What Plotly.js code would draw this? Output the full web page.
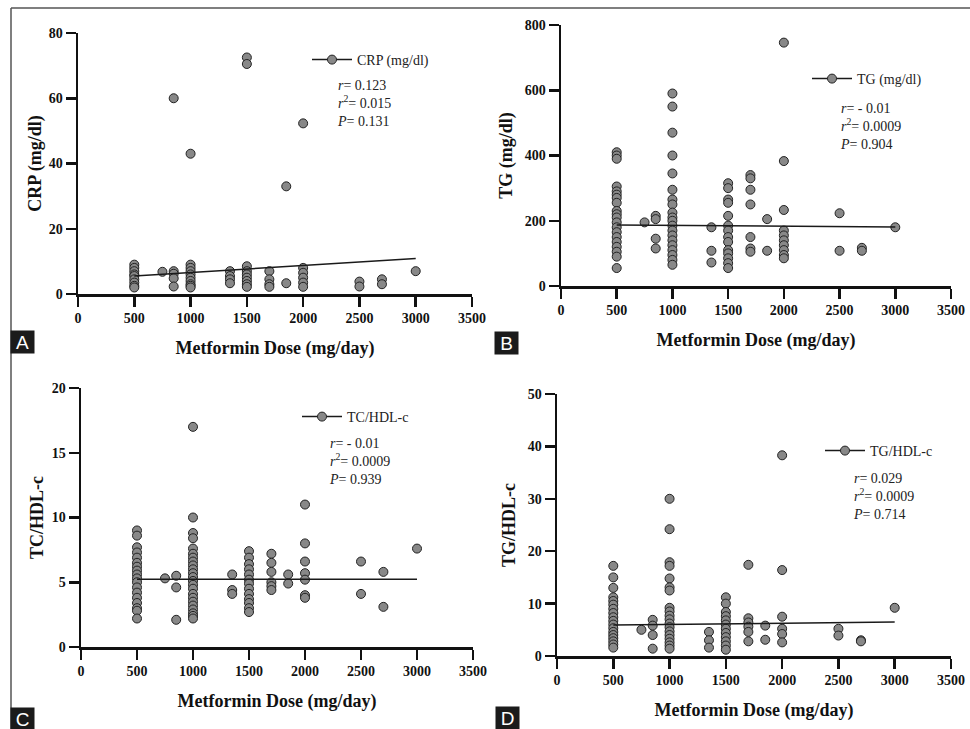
<!DOCTYPE html>
<html>
<head>
<meta charset="utf-8">
<script src="https://cdn.plot.ly/plotly-3.0.1.min.js"></script>
<style>html,body{margin:0;padding:0;background:#fff;}#chart{width:970px;height:729px;}</style>
</head>
<body>
<div id="chart"></div>
<script>
// ---- data ----
const doses = [500, 750, 850, 1000, 1350, 1500, 1700, 1850, 2000, 2500, 2700, 3000];

const crpValues = [
  [9, 8, 7, 6, 5.5, 4.5, 3.5, 2.5, 2],
  [6.8],
  [60, 7, 6.2, 4.8, 2.3],
  [43, 9, 8, 7, 6, 5, 4, 3, 2.5, 2],
  [7, 5.5, 4.5, 3.3],
  [72.5, 70.5, 8.5, 7, 6, 5, 4, 3, 2.2],
  [7, 4.5, 3, 2.2],
  [33, 3.3],
  [52.3, 8, 6.5, 5, 3.5, 2.2],
  [3.8, 2.3],
  [4.5, 3],
  [7]
];

const tgValues = [
  [410, 400, 390, 305, 290, 280, 270, 255, 230, 220, 210, 195, 180, 165, 150, 135, 120, 105, 90, 55],
  [195],
  [215, 205, 145, 115],
  [590, 550, 470, 400, 345, 295, 265, 250, 225, 210, 200, 185, 170, 155, 140, 125, 110, 95, 80, 65],
  [180, 108, 72],
  [315, 300, 265, 255, 215, 185, 170, 150, 135, 110, 100, 85, 70, 55],
  [340, 330, 295, 250, 150, 115, 105],
  [205, 108],
  [746, 383, 233, 170, 155, 140, 125, 110, 95, 85],
  [223, 108],
  [117, 108],
  [180]
];

const tcHdlValues = [
  [9, 8.6, 7.7, 7.3, 6.9, 6.5, 6.2, 5.9, 5.6, 5.3, 5.0, 4.6, 4.2, 3.8, 3.4, 3.0, 2.8, 2.2],
  [5.3],
  [5.5, 4.6, 2.1],
  [17, 10, 8.8, 8.4, 7.6, 7.2, 6.9, 6.6, 6.3, 6.0, 5.7, 5.4, 5.1, 4.8, 4.5, 4.1, 3.8, 3.5, 3.2, 2.9, 2.6, 2.4, 2.2],
  [5.6, 4.4, 4.1],
  [7.4, 6.9, 6.4, 6.0, 5.6, 5.2, 4.9, 4.5, 4.1, 3.7, 3.4, 3.0, 2.7],
  [7.2, 6.5, 5.8, 5.0, 4.7, 4.4],
  [5.6, 4.9],
  [11, 8, 6.6, 5.7, 5.2, 4.0, 3.8],
  [6.6, 4.1],
  [5.8, 3.1],
  [7.6]
];

const tgHdlValues = [
  [17.2, 15, 13, 11.2, 10.5, 9.8, 9, 8.2, 7.4, 6.7, 6, 5.3, 4.6, 4, 3.4, 2.8, 2.2, 1.6],
  [5],
  [6.9, 5.8, 4.0, 1.4],
  [30, 24.2, 17.9, 17.2, 14.8, 13.1, 12.5, 9.2, 8.5, 7.7, 7.0, 6.2, 5.5, 4.7, 4.0, 3.3, 2.6, 2.0, 1.4],
  [4.6, 3.0, 1.6],
  [11.2, 10, 8.4, 7.6, 6.8, 6.0, 5.2, 4.4, 3.6, 2.8, 2.0, 1.2],
  [17.4, 7.2, 6.4, 5.6, 4.6, 2.8],
  [5.8, 3.1],
  [38.3, 16.4, 7.5, 5.2, 4.2, 2.6],
  [5.2, 3.9],
  [3.0, 2.8],
  [9.2]
];

// regression lines (end values)
const fitDoses = [500, 3000];
const crpFit = [5.5, 10.9];
const tgFit = [187, 181];
const tcHdlFit = [5.23, 5.23];
const tgHdlFit = [5.9, 6.5];

const seriesNames = ['CRP (mg/dl)', 'TG (mg/dl)', 'TC/HDL-c', 'TG/HDL-c'];
const yTitles = ['CRP (mg/dl)', 'TG (mg/dl)', 'TC/HDL-c', 'TG/HDL-c'];
const xTitle = 'Metformin Dose (mg/day)';
const rValues = ['0.123', '- 0.01', '- 0.01', '0.029'];
const r2Values = ['0.015', '0.0009', '0.0009', '0.0009'];
const pValues = ['0.131', '0.904', '0.939', '0.714'];
const panelLetters = ['A', 'B', 'C', 'D'];
const yRanges = [[0, 80], [0, 800], [0, 20], [0, 50]];
const yDticks = [20, 200, 5, 10];

// ---- layout geometry (pixels) ----
const W = 970, H = 729;
const panels = [
  {x0: 78,  x1: 472, y0: 33,  y1: 294, leg: [332, 60],  stats: [335, 104], lab: [22.5, 342], ysd: 3},
  {x0: 561, x1: 951, y0: 25,  y1: 286, leg: [832, 79],  stats: [838, 126], lab: [506.5, 342.5], ysd: 8},
  {x0: 81,  x1: 473, y0: 388, y1: 647, leg: [322, 417], stats: [327, 461], lab: [22.5, 718.5], ysd: 4},
  {x0: 557, x1: 951, y0: 394, y1: 656, leg: [845, 451], stats: [851, 496], lab: [507, 718], ysd: 8}
];
const allValues = [crpValues, tgValues, tcHdlValues, tgHdlValues];
const allFits = [crpFit, tgFit, tcHdlFit, tgHdlFit];

const serif = 'Liberation Serif, Times New Roman, serif';
const traces = [];
const layout = {
  width: W, height: H,
  margin: {l: 0, r: 0, t: 0, b: 0},
  paper_bgcolor: '#ffffff', plot_bgcolor: 'rgba(0,0,0,0)',
  showlegend: true,
  annotations: [], shapes: []
};

panels.forEach((p, i) => {
  const n = i === 0 ? '' : String(i + 1);
  const xa = 'x' + n, ya = 'y' + n;
  // points, separated by nulls so the legend shows line + symbol but no connecting lines
  const xs = [], ys = [];
  allValues[i].forEach((vals, k) => {
    vals.forEach(v => { xs.push(doses[k]); ys.push(v); xs.push(null); ys.push(null); });
  });
  traces.push({
    type: 'scatter', mode: 'lines+markers', x: xs, y: ys, xaxis: xa, yaxis: ya,
    connectgaps: false, cliponaxis: false,
    name: seriesNames[i], legend: 'legend' + n,
    line: {color: '#1a1a1a', width: 1.5},
    marker: {size: 9, color: '#888888', line: {color: '#222222', width: 1}}
  });
  traces.push({
    type: 'scatter', mode: 'lines', x: fitDoses, y: allFits[i], xaxis: xa, yaxis: ya,
    showlegend: false, line: {color: '#1a1a1a', width: 1.5}, hoverinfo: 'skip'
  });

  const axBase = {
    showline: true, linecolor: '#111', linewidth: 2.5,
    ticks: 'outside', ticklen: 10, tickwidth: 2.5, tickcolor: '#111',
    showgrid: false, zeroline: false, fixedrange: true,
    tickfont: {family: serif, size: 14, color: '#111', weight: 'bold'}
  };
  layout['xaxis' + n] = Object.assign({}, axBase, {
    domain: [p.x0 / W, p.x1 / W], anchor: ya, range: [0, 3500], tick0: 0, dtick: 500,
    title: {text: xTitle, standoff: 16, font: {family: serif, size: 18, color: '#111', weight: 'bold'}}
  });
  layout['yaxis' + n] = Object.assign({}, axBase, {
    domain: [1 - p.y1 / H, 1 - p.y0 / H], anchor: xa, range: yRanges[i], tick0: 0, dtick: yDticks[i],
    title: {text: yTitles[i], standoff: p.ysd, font: {family: serif, size: 18, color: '#111', weight: 'bold'}}
  });
  layout['legend' + n] = {
    x: (p.leg[0] - 25) / W, y: 1 - p.leg[1] / H, xanchor: 'left', yanchor: 'middle',
    bgcolor: 'rgba(0,0,0,0)', borderwidth: 0, itemwidth: 40,
    font: {family: serif, size: 14, color: '#222'}
  };
  layout.annotations.push({
    xref: 'paper', yref: 'paper', x: p.stats[0] / W, y: 1 - p.stats[1] / H,
    xanchor: 'left', yanchor: 'middle', align: 'left', showarrow: false,
    text: '<i>r</i>= ' + rValues[i] + '<br><i>r</i><sup>2</sup>= ' + r2Values[i] + '<br><i>P</i>= ' + pValues[i],
    font: {family: serif, size: 14, color: '#222'}
  });
  layout.annotations.push({
    xref: 'paper', yref: 'paper', x: p.lab[0] / W, y: 1 - p.lab[1] / H,
    xanchor: 'center', yanchor: 'middle', showarrow: false,
    text: panelLetters[i], width: 23, height: 22, borderpad: 0, bgcolor: '#1b1b1b',
    font: {family: 'Liberation Sans, Arial, sans-serif', size: 19, color: '#ffffff'}
  });
});

// figure frame (top and left edges)
layout.shapes.push({type: 'line', xref: 'paper', yref: 'paper', x0: 11 / W, x1: 1, y0: 1 - 8 / H, y1: 1 - 8 / H, line: {color: '#555', width: 1.5}});
layout.shapes.push({type: 'line', xref: 'paper', yref: 'paper', x0: 11 / W, x1: 11 / W, y0: 0, y1: 1 - 8 / H, line: {color: '#555', width: 1.5}});

Plotly.newPlot('chart', traces, layout, {displayModeBar: false, staticPlot: true});
</script>
</body>
</html>
